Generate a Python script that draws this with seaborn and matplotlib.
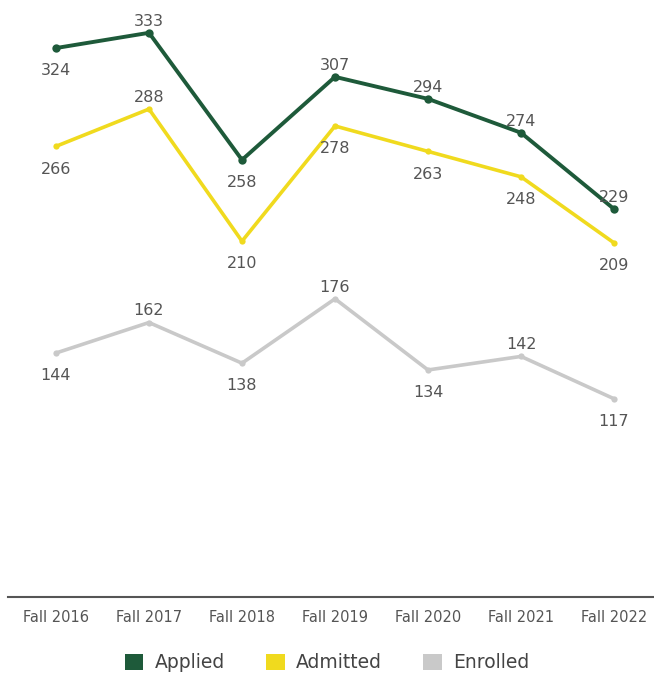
import matplotlib
matplotlib.use("Agg")
import matplotlib.pyplot as plt
import seaborn as sns
import pandas as pd
from matplotlib.patches import Patch

terms = ["Fall 2016", "Fall 2017", "Fall 2018", "Fall 2019", "Fall 2020", "Fall 2021", "Fall 2022"]
applied = [324, 333, 258, 307, 294, 274, 229]
admitted = [266, 288, 210, 278, 263, 248, 209]
enrolled = [144, 162, 138, 176, 134, 142, 117]
series_names = ["Applied", "Admitted", "Enrolled"]
colors = {"Applied": "#1e5a3a", "Admitted": "#f0da1e", "Enrolled": "#c9c9c9"}
# label position: 1 = above, -1 = below
label_pos = {
    "Applied": [-1, 1, -1, 1, 1, 1, 1],
    "Admitted": [-1, 1, -1, -1, -1, -1, -1],
    "Enrolled": [-1, 1, -1, 1, -1, 1, -1],
}

sns.set_theme(style="white")
plt.rcParams['font.family'] = ['DejaVu Sans']

rows = []
for name, vals in zip(series_names, [applied, admitted, enrolled]):
    for i, (t, v) in enumerate(zip(terms, vals)):
        rows.append({"term": t, "idx": i, "value": v, "series": name})
df = pd.DataFrame(rows)

fig = plt.figure(figsize=(6.54, 6.77), dpi=100)
ax = fig.add_axes([8/654, 1 - 597/677, 1 - 8/654, (597 - 4)/677])

for name, lw, ms in [("Enrolled", 2.6, 4.5), ("Admitted", 2.6, 4.5), ("Applied", 2.8, 6)]:
    sub = df[df["series"] == name]
    sns.lineplot(data=sub, x="idx", y="value", color=colors[name], linewidth=lw,
                 marker="o", markersize=ms, markeredgewidth=0, ax=ax, legend=False)

for name, vals in zip(series_names, [applied, admitted, enrolled]):
    for i, v in enumerate(vals):
        pos = label_pos[name][i]
        off = 3 if pos > 0 else -11
        ax.annotate(str(v), (i, v), xytext=(0, off), textcoords="offset points",
                    ha="center", va="bottom" if pos > 0 else "top",
                    fontsize=11.5, color="#555555")

ax.set_xlim(-0.516, 6.43)
ax.set_ylim(0, 350)
ax.set_xticks(range(len(terms)))
ax.set_xticklabels(terms, fontsize=10.5, color="#555555")
ax.set_yticks([])
ax.set_xlabel("")
ax.set_ylabel("")
for s in ["top", "right", "left"]:
    ax.spines[s].set_visible(False)
ax.spines["bottom"].set_color("#555555")
ax.spines["bottom"].set_linewidth(1.5)
ax.tick_params(axis="x", length=0, pad=9)

handles = [Patch(facecolor=colors[n], edgecolor="none") for n in series_names]
fig.legend(handles, series_names, loc="center", bbox_to_anchor=(0.5, 1 - 663/677),
           ncol=3, frameon=False, fontsize=13.5, handlelength=1.0, handleheight=1.0,
           columnspacing=2.2, handletextpad=0.6, labelcolor="#444444")

fig.savefig("out.png", dpi=100)
